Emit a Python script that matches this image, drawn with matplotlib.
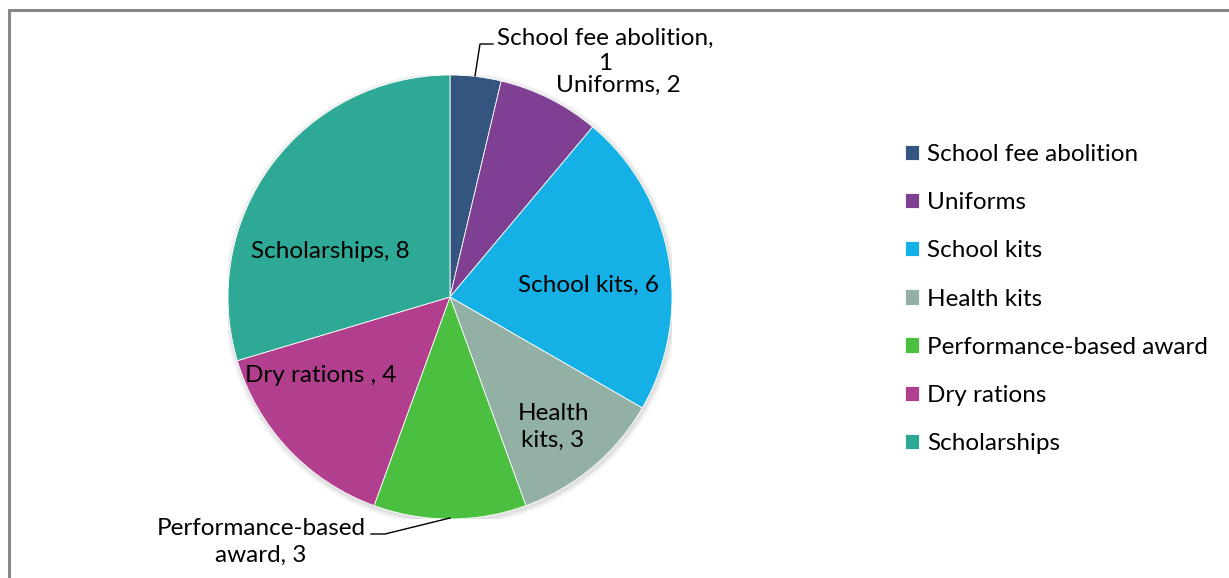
import matplotlib.pyplot as plt
from matplotlib.patches import Circle, Rectangle

plt.rcParams['font.family'] = ['Lato', 'DejaVu Sans']

categories = ['School fee abolition', 'Uniforms', 'School kits', 'Health kits',
              'Performance-based award', 'Dry rations', 'Scholarships']
counts = [1, 2, 6, 3, 3, 4, 8]
slice_labels = ['School fee abolition,\n1', 'Uniforms, 2', 'School kits, 6',
                'Health\nkits, 3', 'Performance-based\naward, 3', 'Dry rations , 4',
                'Scholarships, 8']
colors = ['#34557f', '#7f3f93', '#15b0e6', '#93b0a4', '#4bbf40', '#b23f8e', '#2ea996']

W, H = 1229, 578
fig = plt.figure(figsize=(W / 100, H / 100), dpi=100)

# outer chart frame (top and left edges visible)
fig.add_artist(Rectangle((8.5 / W, -0.1), 1.2, (H - 9.5) / H + 0.1,
                         transform=fig.transFigure, fill=False,
                         edgecolor='#878787', linewidth=2.2))

cx, cy, r = 450, 297, 222
ax = fig.add_axes([(cx - r) / W, (H - cy - r) / H, 2 * r / W, 2 * r / H])

# soft shadow under the pie
for i, a in enumerate([0.05, 0.04, 0.03]):
    ax.add_patch(Circle((0.004, -0.008), 1 + 0.008 * (i + 1), color='black',
                        alpha=a, zorder=0, lw=0))

wedges, _ = ax.pie(counts, colors=colors, startangle=90, counterclock=False,
                   radius=1, wedgeprops=dict(linewidth=0.6, edgecolor='white'))
ax.set_xlim(-1, 1)
ax.set_ylim(-1, 1)
ax.set_aspect('equal')
ax.axis('off')


def px(x, y):
    return ((x - cx) / r, (cy - y) / r)


fs = 17.5
label_pos = [(605, 51), (618, 85), (588, 285), (553, 427), (261, 542), (321, 376), (330, 252)]
spacing = [1.2, 1.2, 1.2, 1.35, 1.3, 1.2, 1.2]
for text, (x, y), ls in zip(slice_labels, label_pos, spacing):
    ax.text(*px(x, y), text, ha='center', va='center', fontsize=fs,
            linespacing=ls, color='black')

# leader lines for the labels placed outside the pie
for pts in ([(475, 76), (480, 44), (493, 44)],
            [(450, 518), (385, 534), (371, 534)]):
    xs, ys = zip(*[px(*p) for p in pts])
    ax.plot(xs, ys, color='black', lw=1.0, clip_on=False)

fig.legend(wedges, categories, loc='upper left',
           bbox_to_anchor=(883 / W, 1 - 122 / H), frameon=False,
           fontsize=fs, handlelength=0.6, handleheight=0.6,
           handletextpad=0.3, labelspacing=1.12)

fig.savefig('out.png', dpi=100)
